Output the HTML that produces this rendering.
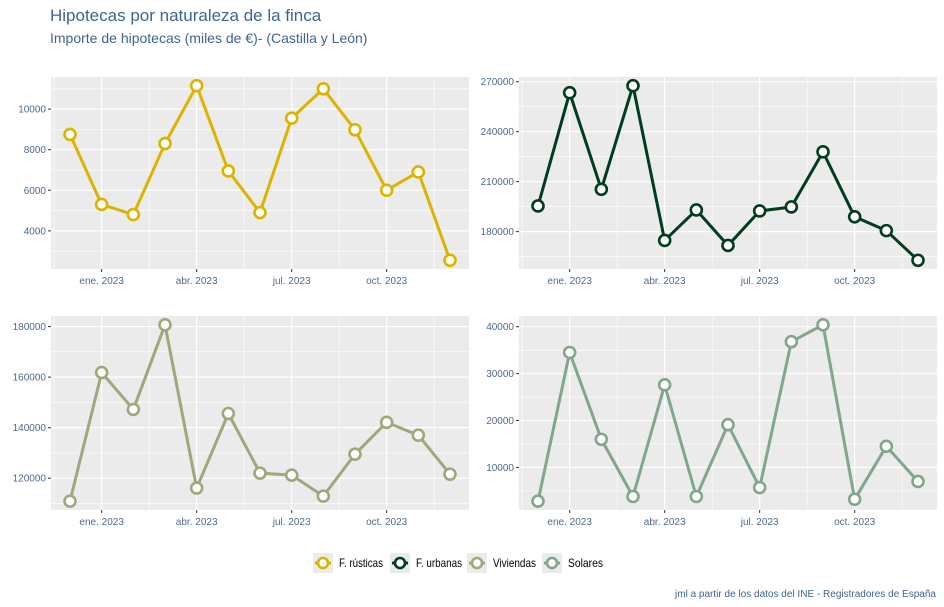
<!DOCTYPE html>
<html><head><meta charset="utf-8"><style>
body{margin:0;background:#fff;}
svg{display:block;font-family:"Liberation Sans",Arial,sans-serif;}
</style></head><body>
<svg id="c" width="944" height="607">
<text x="50" y="21" font-size="17" fill="#3d6591">Hipotecas por naturaleza de la finca</text>
<text x="50" y="43" font-size="14" fill="#3d6591">Importe de hipotecas (miles de €)- (Castilla y León)</text>
<text x="936" y="597" font-size="10" fill="#3d6591" text-anchor="end" textLength="261" lengthAdjust="spacingAndGlyphs">jml a partir de los datos del INE - Registradores de España</text>
<g id="legend"></g>
</svg>
<script>
const months = ["dic. 2022","ene. 2023","feb. 2023","mar. 2023","abr. 2023","may. 2023","jun. 2023","jul. 2023","ago. 2023","sep. 2023","oct. 2023","nov. 2023","dic. 2023"];
const xTickIdx = [1,4,7,10];
const xTickLabels = ["ene. 2023","abr. 2023","jul. 2023","oct. 2023"];
const seriesNames = ["F. rústicas","F. urbanas","Viviendas","Solares"];
const rusticas = [8750,5300,4800,8300,11150,6950,4900,9550,11000,8980,6000,6900,2550];
const urbanas = [195400,263400,205400,267600,174700,193000,171700,192400,194800,227900,188900,180600,162800];
const viviendas = [110900,161800,147200,180700,116100,145600,122000,121200,112900,129500,142100,137000,121600];
const solares = [2800,34500,16000,3800,27600,3800,19100,5700,36800,40400,3200,14500,7000];
const ticksR = [4000,6000,8000,10000];
const ticksU = [180000,210000,240000,270000];
const ticksV = [120000,140000,160000,180000];
const ticksS = [10000,20000,30000,40000];
const colors = ["#dab400","#003d1f","#a3a67b","#80a78b"];
const NS="http://www.w3.org/2000/svg";
const svg=document.getElementById('c');
function mk(tag,attrs,parent){const e=document.createElementNS(NS,tag);for(const k in attrs)e.setAttribute(k,attrs[k]);(parent||svg).appendChild(e);return e;}
const panels=[
 {name:"rusticas",data:rusticas,ticks:ticksR,x0:51,x1:469,y0:77,y1:269,c:colors[0]},
 {name:"urbanas",data:urbanas,ticks:ticksU,x0:519,x1:937,y0:77,y1:269,c:colors[1]},
 {name:"viviendas",data:viviendas,ticks:ticksV,x0:51,x1:469,y0:316,y1:510,c:colors[2]},
 {name:"solares",data:solares,ticks:ticksS,x0:519,x1:937,y0:316,y1:510,c:colors[3]}
];
panels.forEach(p=>{
 const g=mk('g',{});
 
 
 const n=p.data.length;
 const w=p.x1-p.x0, pad=w*0.05/1.1;
 const xs=i=>p.x0+pad+(w-2*pad)*i/(n-1);
 const mn=Math.min(...p.data), mx=Math.max(...p.data), r=mx-mn;
 const lo=mn-r*0.05, hi=mx+r*0.05;
 const ys=v=>p.y1-(v-lo)/(hi-lo)*(p.y1-p.y0);
 const bg=mk('rect',{x:p.x0,y:p.y0,width:w,height:p.y1-p.y0,fill:"#ebebeb"},g);
 
 
 const step=p.ticks[1]-p.ticks[0];
 for(let v=p.ticks[0]-step*1.5;v<=hi;v+=step){ if(v>=lo){const y=ys(v);mk('line',{x1:p.x0,x2:p.x1,y1:y,y2:y,stroke:"#fff","stroke-width":0.6},g);} }
 for(let k=0;k<xTickIdx.length+1;k++){const i=xTickIdx[0]-1.5+3*k;if(i>=-0.55&&i<=n-0.45){const x=xs(i);mk('line',{x1:x,x2:x,y1:p.y0,y2:p.y1,stroke:"#fff","stroke-width":0.6},g);}}
 p.ticks.forEach(v=>{const y=ys(v);mk('line',{x1:p.x0,x2:p.x1,y1:y,y2:y,stroke:"#fff","stroke-width":1.2},g);
  mk('line',{x1:p.x0-3,x2:p.x0,y1:y,y2:y,stroke:"#333","stroke-width":1},g);
  const t=mk('text',{x:p.x0-5,y:y+3.5,"font-size":10,fill:"#4d6a8f","text-anchor":"end"},g);t.textContent=v;
  
  });
 xTickIdx.forEach((i,k)=>{const x=xs(i);mk('line',{x1:x,x2:x,y1:p.y0,y2:p.y1,stroke:"#fff","stroke-width":1.2},g);
  mk('line',{x1:x,x2:x,y1:p.y1,y2:p.y1+3,stroke:"#333","stroke-width":1},g);
  const t=mk('text',{x:x,y:p.y1+15,"font-size":10,fill:"#4d6a8f","text-anchor":"middle"},g);t.textContent=xTickLabels[k];
  
  });
 const pts=p.data.map((v,i)=>xs(i)+","+ys(v)).join(" ");
 const line=mk('polyline',{points:pts,fill:"none",stroke:p.c,"stroke-width":3,"stroke-linejoin":"round"},g);
 
 
 p.data.forEach((v,i)=>{const c=mk('circle',{cx:xs(i),cy:ys(v),r:5.5,fill:"#fff",stroke:p.c,"stroke-width":2.6},g);
  
  });
});
const lg=document.getElementById('legend');
const lx=[313,390,467,542];
const lw=[44,46,43,35];
seriesNames.forEach((s,i)=>{
 const g=mk('g',{},lg);
 
 
 mk('rect',{x:lx[i],y:553,width:20,height:20,fill:"#ebebeb"},g);
 mk('line',{x1:lx[i]+2,x2:lx[i]+18,y1:563,y2:563,stroke:colors[i],"stroke-width":3},g);
 mk('circle',{cx:lx[i]+10,cy:563,r:5,fill:"#fff",stroke:colors[i],"stroke-width":2.6},g);
 const t=mk('text',{x:lx[i]+26,y:567,"font-size":12,fill:"#000",textLength:lw[i],lengthAdjust:"spacingAndGlyphs"},g);t.textContent=s;
});
</script>
</body></html>
